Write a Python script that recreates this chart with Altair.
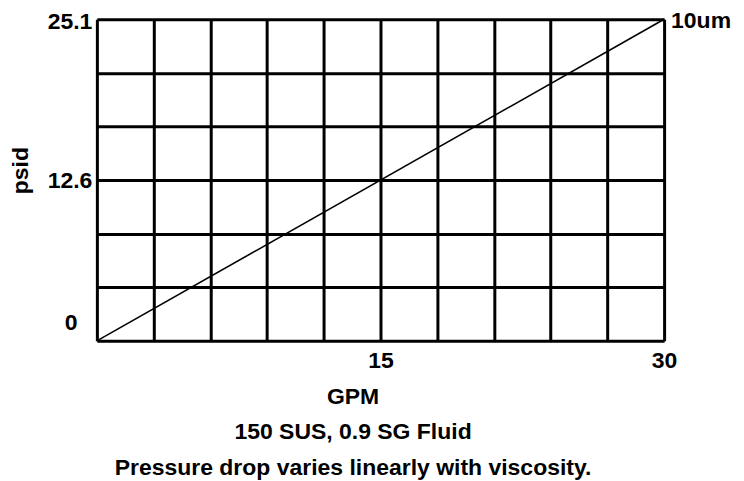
import altair as alt
import pandas as pd

# ---- data ----
gpm = [0, 30]
psid = [0, 25.1]
series_name = ["10um", "10um"]

x_grid_values = [0, 3, 6, 9, 12, 15, 18, 21, 24, 27, 30]
x_tick_values = [15, 30]
x_tick_labels = ["15", "30"]

y_max = 25.1
y_grid_values = [0, 4.1833, 8.3667, 12.55, 16.7333, 20.9167, 25.1]
y_tick_values = [0, 12.55, 25.1]
y_tick_labels = ["0", "12.6", "25.1"]

x_title = "GPM"
y_title = "psid"
notes = ["150 SUS, 0.9 SG Fluid", "Pressure drop varies linearly with viscosity."]

FONT = "Liberation Sans"
FS = 23

df = pd.DataFrame({"gpm": gpm, "psid": psid, "series": series_name})
lab = df.tail(1)


def label_expr(values, labels):
    expr = "''"
    for v, t in reversed(list(zip(values, labels))):
        expr = f"abs(datum.value - {v}) < 0.01 ? '{t}' : ({expr})"
    return expr


x_enc = alt.X(
    "gpm:Q",
    scale=alt.Scale(domain=[0, 30], nice=False, zero=True),
    axis=alt.Axis(
        values=x_grid_values,
        labelExpr=label_expr(x_tick_values, x_tick_labels),
        grid=True, gridColor="black", gridWidth=3, gridOpacity=1,
        domain=False, ticks=False,
        labelFont=FONT, labelFontSize=FS, labelFontWeight="bold", labelColor="black",
        labelBaseline="alphabetic", labelPadding=27, labelFlush=False, labelOverlap=False,
        title=[x_title] + notes, titleFont=FONT, titleFontSize=FS, titleFontWeight="bold",
        titleColor="black", titleBaseline="alphabetic", titleLineHeight=35.5,
        titleX=256, titleY=62.5,
    ),
)

y_enc = alt.Y(
    "psid:Q",
    scale=alt.Scale(domain=[0, y_max], nice=False, zero=True),
    axis=alt.Axis(
        values=y_grid_values,
        labelExpr=label_expr(y_tick_values, y_tick_labels),
        grid=True, gridColor="black", gridWidth=3, gridOpacity=1,
        domain=False, ticks=False,
        labelFont=FONT, labelFontSize=FS, labelFontWeight="bold", labelColor="black",
        labelPadding={"condition": {"test": "datum.value == 0", "value": 20}, "value": 5},
        labelOffset={
            "condition": [
                {"test": "datum.value == 0", "value": -18},
                {"test": "datum.value > 25", "value": 2},
            ],
            "value": 0,
        },
        labelFlush=False, labelOverlap=False,
        title=y_title, titleFont=FONT, titleFontSize=FS, titleFontWeight="bold",
        titleColor="black", titleBaseline="alphabetic", titleX=-69, titleY=151,
    ),
)

line = alt.Chart(df).mark_line(color="black", strokeWidth=1.6).encode(x=x_enc, y=y_enc)

text = alt.Chart(lab).mark_text(
    align="left", baseline="middle", dx=7, dy=2,
    font=FONT, fontSize=FS, fontWeight="bold", color="black",
).encode(x="gpm:Q", y="psid:Q", text="series:N")

chart = (
    alt.layer(line, text)
    .properties(
        width=568,
        height=322,
        autosize=alt.AutoSizeParams(type="none"),
        padding={"left": 89, "top": 11, "right": 72, "bottom": 139},
    )
    .configure_view(stroke=None)
    .configure(background="white")
)

chart.save("out.html", embed_options={"renderer": "svg", "actions": False})
